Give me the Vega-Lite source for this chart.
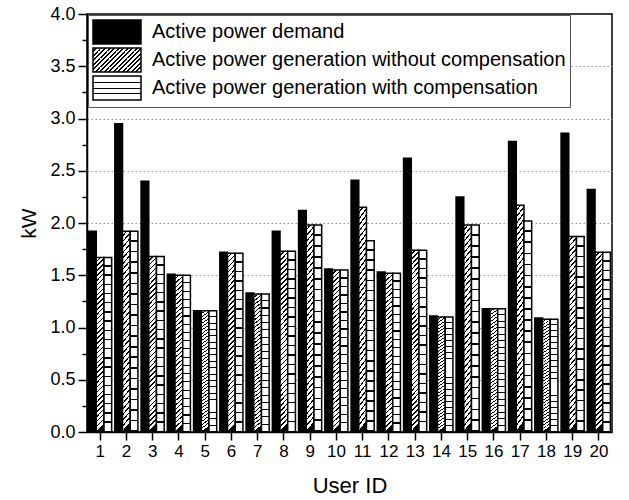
{
  "$schema": "https://vega.github.io/schema/vega-lite/v6.json",
  "width": 525,
  "height": 418,
  "autosize": {"type": "none"},
  "padding": {"left": 87, "top": 14, "right": 17, "bottom": 68},
  "config": {"font": "Liberation Sans", "view": {"stroke": "black", "strokeWidth": 1.5}},
  "data": {"values": [
    {"user": 1, "Active power demand": 1.92, "Active power generation without compensation": 1.67, "Active power generation with compensation": 1.67},
    {"user": 2, "Active power demand": 2.95, "Active power generation without compensation": 1.92, "Active power generation with compensation": 1.92},
    {"user": 3, "Active power demand": 2.40, "Active power generation without compensation": 1.68, "Active power generation with compensation": 1.68},
    {"user": 4, "Active power demand": 1.51, "Active power generation without compensation": 1.50, "Active power generation with compensation": 1.50},
    {"user": 5, "Active power demand": 1.16, "Active power generation without compensation": 1.16, "Active power generation with compensation": 1.16},
    {"user": 6, "Active power demand": 1.72, "Active power generation without compensation": 1.71, "Active power generation with compensation": 1.71},
    {"user": 7, "Active power demand": 1.33, "Active power generation without compensation": 1.32, "Active power generation with compensation": 1.32},
    {"user": 8, "Active power demand": 1.92, "Active power generation without compensation": 1.73, "Active power generation with compensation": 1.73},
    {"user": 9, "Active power demand": 2.12, "Active power generation without compensation": 1.98, "Active power generation with compensation": 1.98},
    {"user": 10, "Active power demand": 1.56, "Active power generation without compensation": 1.55, "Active power generation with compensation": 1.55},
    {"user": 11, "Active power demand": 2.41, "Active power generation without compensation": 2.15, "Active power generation with compensation": 1.83},
    {"user": 12, "Active power demand": 1.53, "Active power generation without compensation": 1.52, "Active power generation with compensation": 1.52},
    {"user": 13, "Active power demand": 2.62, "Active power generation without compensation": 1.74, "Active power generation with compensation": 1.74},
    {"user": 14, "Active power demand": 1.11, "Active power generation without compensation": 1.10, "Active power generation with compensation": 1.10},
    {"user": 15, "Active power demand": 2.25, "Active power generation without compensation": 1.98, "Active power generation with compensation": 1.98},
    {"user": 16, "Active power demand": 1.18, "Active power generation without compensation": 1.18, "Active power generation with compensation": 1.18},
    {"user": 17, "Active power demand": 2.78, "Active power generation without compensation": 2.17, "Active power generation with compensation": 2.02},
    {"user": 18, "Active power demand": 1.09, "Active power generation without compensation": 1.08, "Active power generation with compensation": 1.08},
    {"user": 19, "Active power demand": 2.86, "Active power generation without compensation": 1.87, "Active power generation with compensation": 1.87},
    {"user": 20, "Active power demand": 2.32, "Active power generation without compensation": 1.72, "Active power generation with compensation": 1.72}
  ]},
  "transform": [
    {"fold": ["Active power demand", "Active power generation without compensation", "Active power generation with compensation"], "as": ["series", "kW"]}
  ],
  "mark": {"type": "bar", "strokeWidth": 1.5},
  "encoding": {
    "x": {
      "field": "user", "type": "ordinal",
      "scale": {"paddingInner": 0.12, "paddingOuter": 0.06},
      "axis": {"title": "User ID", "labelAngle": 0, "labelFontSize": 17, "labelColor": "black", "tickSize": 8, "tickColor": "black", "tickWidth": 1.5, "domainColor": "black", "domainWidth": 1.5, "labelPadding": 3, "titleFontSize": 22, "titleFontWeight": "normal", "titleColor": "black", "titlePadding": 16, "grid": false}
    },
    "xOffset": {"field": "series", "sort": ["Active power demand", "Active power generation without compensation", "Active power generation with compensation"], "scale": {"paddingInner": 0}},
    "y": {
      "field": "kW", "type": "quantitative",
      "scale": {"domain": [0, 4], "nice": false},
      "axis": {
        "title": "kW",
        "values": [0, 0.25, 0.5, 0.75, 1, 1.25, 1.5, 1.75, 2, 2.25, 2.5, 2.75, 3, 3.25, 3.5, 3.75, 4],
        "labelExpr": "(datum.value*4)%2===0 ? format(datum.value,'.1f') : ''",
        "tickSize": {"condition": {"test": "(datum.value*4)%2===0", "value": 9}, "value": 5},
        "grid": true, "gridColor": "#999", "gridWidth": 1,
        "gridDash": {"condition": {"test": "true", "value": [1.5, 2.5]}, "value": [1.5, 2.5]},
        "gridOpacity": {"condition": {"test": "(datum.value*4)%2===0 && datum.value>0 && datum.value<4", "value": 1}, "value": 0},
        "domainColor": "black", "domainWidth": 1.5, "tickColor": "black", "tickWidth": 1.5,
        "labelFontSize": 18, "labelColor": "black", "labelPadding": 3,
        "titleFontSize": 21, "titleFontWeight": "normal", "titleColor": "black", "titlePadding": 10
      }
    },
    "fill": {
      "value": {"expr": "(datum.series === 'Active power demand' || datum.value === 'Active power demand') ? '#000' : (datum.value === 'Active power generation without compensation' ? {gradient: 'linear', x1: 0, y1: 0, x2: 1.2, y2: 0.6, stops: [{offset: 0, color: '#fff'}, {offset: 0.04063, color: '#fff'}, {offset: 0.04063, color: '#000'}, {offset: 0.0625, color: '#000'}, {offset: 0.0625, color: '#fff'}, {offset: 0.10313, color: '#fff'}, {offset: 0.10313, color: '#000'}, {offset: 0.125, color: '#000'}, {offset: 0.125, color: '#fff'}, {offset: 0.16563, color: '#fff'}, {offset: 0.16563, color: '#000'}, {offset: 0.1875, color: '#000'}, {offset: 0.1875, color: '#fff'}, {offset: 0.22813, color: '#fff'}, {offset: 0.22813, color: '#000'}, {offset: 0.25, color: '#000'}, {offset: 0.25, color: '#fff'}, {offset: 0.29063, color: '#fff'}, {offset: 0.29063, color: '#000'}, {offset: 0.3125, color: '#000'}, {offset: 0.3125, color: '#fff'}, {offset: 0.35313, color: '#fff'}, {offset: 0.35313, color: '#000'}, {offset: 0.375, color: '#000'}, {offset: 0.375, color: '#fff'}, {offset: 0.41563, color: '#fff'}, {offset: 0.41563, color: '#000'}, {offset: 0.4375, color: '#000'}, {offset: 0.4375, color: '#fff'}, {offset: 0.47813, color: '#fff'}, {offset: 0.47813, color: '#000'}, {offset: 0.5, color: '#000'}, {offset: 0.5, color: '#fff'}, {offset: 0.54063, color: '#fff'}, {offset: 0.54063, color: '#000'}, {offset: 0.5625, color: '#000'}, {offset: 0.5625, color: '#fff'}, {offset: 0.60313, color: '#fff'}, {offset: 0.60313, color: '#000'}, {offset: 0.625, color: '#000'}, {offset: 0.625, color: '#fff'}, {offset: 0.66563, color: '#fff'}, {offset: 0.66563, color: '#000'}, {offset: 0.6875, color: '#000'}, {offset: 0.6875, color: '#fff'}, {offset: 0.72813, color: '#fff'}, {offset: 0.72813, color: '#000'}, {offset: 0.75, color: '#000'}, {offset: 0.75, color: '#fff'}, {offset: 0.79063, color: '#fff'}, {offset: 0.79063, color: '#000'}, {offset: 0.8125, color: '#000'}, {offset: 0.8125, color: '#fff'}, {offset: 0.85313, color: '#fff'}, {offset: 0.85313, color: '#000'}, {offset: 0.875, color: '#000'}, {offset: 0.875, color: '#fff'}, {offset: 0.91563, color: '#fff'}, {offset: 0.91563, color: '#000'}, {offset: 0.9375, color: '#000'}, {offset: 0.9375, color: '#fff'}, {offset: 0.97813, color: '#fff'}, {offset: 0.97813, color: '#000'}, {offset: 1, color: '#000'}]} : (datum.value === 'Active power generation with compensation' ? {gradient: 'linear', x1: 0, y1: 0, x2: 0, y2: 1, stops: [{offset: 0, color: '#fff'}, {offset: 0.23, color: '#fff'}, {offset: 0.23, color: '#000'}, {offset: 0.28, color: '#000'}, {offset: 0.28, color: '#fff'}, {offset: 0.48, color: '#fff'}, {offset: 0.48, color: '#000'}, {offset: 0.53, color: '#000'}, {offset: 0.53, color: '#fff'}, {offset: 0.72, color: '#fff'}, {offset: 0.72, color: '#000'}, {offset: 0.77, color: '#000'}, {offset: 0.77, color: '#fff'}, {offset: 1, color: '#fff'}]} : (datum.series === 'Active power generation without compensation' ? {gradient: 'linear', x1: 0, y1: 0, x2: 0.045, y2: 1, stops: [{offset: 0, color: '#fff'}, {offset: 0.01944, color: '#fff'}, {offset: 0.01944, color: '#000'}, {offset: 0.02778, color: '#000'}, {offset: 0.02778, color: '#fff'}, {offset: 0.04722, color: '#fff'}, {offset: 0.04722, color: '#000'}, {offset: 0.05556, color: '#000'}, {offset: 0.05556, color: '#fff'}, {offset: 0.075, color: '#fff'}, {offset: 0.075, color: '#000'}, {offset: 0.08333, color: '#000'}, {offset: 0.08333, color: '#fff'}, {offset: 0.10278, color: '#fff'}, {offset: 0.10278, color: '#000'}, {offset: 0.11111, color: '#000'}, {offset: 0.11111, color: '#fff'}, {offset: 0.13056, color: '#fff'}, {offset: 0.13056, color: '#000'}, {offset: 0.13889, color: '#000'}, {offset: 0.13889, color: '#fff'}, {offset: 0.15833, color: '#fff'}, {offset: 0.15833, color: '#000'}, {offset: 0.16667, color: '#000'}, {offset: 0.16667, color: '#fff'}, {offset: 0.18611, color: '#fff'}, {offset: 0.18611, color: '#000'}, {offset: 0.19444, color: '#000'}, {offset: 0.19444, color: '#fff'}, {offset: 0.21389, color: '#fff'}, {offset: 0.21389, color: '#000'}, {offset: 0.22222, color: '#000'}, {offset: 0.22222, color: '#fff'}, {offset: 0.24167, color: '#fff'}, {offset: 0.24167, color: '#000'}, {offset: 0.25, color: '#000'}, {offset: 0.25, color: '#fff'}, {offset: 0.26944, color: '#fff'}, {offset: 0.26944, color: '#000'}, {offset: 0.27778, color: '#000'}, {offset: 0.27778, color: '#fff'}, {offset: 0.29722, color: '#fff'}, {offset: 0.29722, color: '#000'}, {offset: 0.30556, color: '#000'}, {offset: 0.30556, color: '#fff'}, {offset: 0.325, color: '#fff'}, {offset: 0.325, color: '#000'}, {offset: 0.33333, color: '#000'}, {offset: 0.33333, color: '#fff'}, {offset: 0.35278, color: '#fff'}, {offset: 0.35278, color: '#000'}, {offset: 0.36111, color: '#000'}, {offset: 0.36111, color: '#fff'}, {offset: 0.38056, color: '#fff'}, {offset: 0.38056, color: '#000'}, {offset: 0.38889, color: '#000'}, {offset: 0.38889, color: '#fff'}, {offset: 0.40833, color: '#fff'}, {offset: 0.40833, color: '#000'}, {offset: 0.41667, color: '#000'}, {offset: 0.41667, color: '#fff'}, {offset: 0.43611, color: '#fff'}, {offset: 0.43611, color: '#000'}, {offset: 0.44444, color: '#000'}, {offset: 0.44444, color: '#fff'}, {offset: 0.46389, color: '#fff'}, {offset: 0.46389, color: '#000'}, {offset: 0.47222, color: '#000'}, {offset: 0.47222, color: '#fff'}, {offset: 0.49167, color: '#fff'}, {offset: 0.49167, color: '#000'}, {offset: 0.5, color: '#000'}, {offset: 0.5, color: '#fff'}, {offset: 0.51944, color: '#fff'}, {offset: 0.51944, color: '#000'}, {offset: 0.52778, color: '#000'}, {offset: 0.52778, color: '#fff'}, {offset: 0.54722, color: '#fff'}, {offset: 0.54722, color: '#000'}, {offset: 0.55556, color: '#000'}, {offset: 0.55556, color: '#fff'}, {offset: 0.575, color: '#fff'}, {offset: 0.575, color: '#000'}, {offset: 0.58333, color: '#000'}, {offset: 0.58333, color: '#fff'}, {offset: 0.60278, color: '#fff'}, {offset: 0.60278, color: '#000'}, {offset: 0.61111, color: '#000'}, {offset: 0.61111, color: '#fff'}, {offset: 0.63056, color: '#fff'}, {offset: 0.63056, color: '#000'}, {offset: 0.63889, color: '#000'}, {offset: 0.63889, color: '#fff'}, {offset: 0.65833, color: '#fff'}, {offset: 0.65833, color: '#000'}, {offset: 0.66667, color: '#000'}, {offset: 0.66667, color: '#fff'}, {offset: 0.68611, color: '#fff'}, {offset: 0.68611, color: '#000'}, {offset: 0.69444, color: '#000'}, {offset: 0.69444, color: '#fff'}, {offset: 0.71389, color: '#fff'}, {offset: 0.71389, color: '#000'}, {offset: 0.72222, color: '#000'}, {offset: 0.72222, color: '#fff'}, {offset: 0.74167, color: '#fff'}, {offset: 0.74167, color: '#000'}, {offset: 0.75, color: '#000'}, {offset: 0.75, color: '#fff'}, {offset: 0.76944, color: '#fff'}, {offset: 0.76944, color: '#000'}, {offset: 0.77778, color: '#000'}, {offset: 0.77778, color: '#fff'}, {offset: 0.79722, color: '#fff'}, {offset: 0.79722, color: '#000'}, {offset: 0.80556, color: '#000'}, {offset: 0.80556, color: '#fff'}, {offset: 0.825, color: '#fff'}, {offset: 0.825, color: '#000'}, {offset: 0.83333, color: '#000'}, {offset: 0.83333, color: '#fff'}, {offset: 0.85278, color: '#fff'}, {offset: 0.85278, color: '#000'}, {offset: 0.86111, color: '#000'}, {offset: 0.86111, color: '#fff'}, {offset: 0.88056, color: '#fff'}, {offset: 0.88056, color: '#000'}, {offset: 0.88889, color: '#000'}, {offset: 0.88889, color: '#fff'}, {offset: 0.90833, color: '#fff'}, {offset: 0.90833, color: '#000'}, {offset: 0.91667, color: '#000'}, {offset: 0.91667, color: '#fff'}, {offset: 0.93611, color: '#fff'}, {offset: 0.93611, color: '#000'}, {offset: 0.94444, color: '#000'}, {offset: 0.94444, color: '#fff'}, {offset: 0.96389, color: '#fff'}, {offset: 0.96389, color: '#000'}, {offset: 0.97222, color: '#000'}, {offset: 0.97222, color: '#fff'}, {offset: 0.99167, color: '#fff'}, {offset: 0.99167, color: '#000'}, {offset: 1, color: '#000'}]} : {gradient: 'linear', x1: 0, y1: 0, x2: 0, y2: 1, stops: [{offset: 0, color: '#fff'}, {offset: 0.04474, color: '#fff'}, {offset: 0.04474, color: '#000'}, {offset: 0.05263, color: '#000'}, {offset: 0.05263, color: '#fff'}, {offset: 0.09737, color: '#fff'}, {offset: 0.09737, color: '#000'}, {offset: 0.10526, color: '#000'}, {offset: 0.10526, color: '#fff'}, {offset: 0.15, color: '#fff'}, {offset: 0.15, color: '#000'}, {offset: 0.15789, color: '#000'}, {offset: 0.15789, color: '#fff'}, {offset: 0.20263, color: '#fff'}, {offset: 0.20263, color: '#000'}, {offset: 0.21053, color: '#000'}, {offset: 0.21053, color: '#fff'}, {offset: 0.25526, color: '#fff'}, {offset: 0.25526, color: '#000'}, {offset: 0.26316, color: '#000'}, {offset: 0.26316, color: '#fff'}, {offset: 0.30789, color: '#fff'}, {offset: 0.30789, color: '#000'}, {offset: 0.31579, color: '#000'}, {offset: 0.31579, color: '#fff'}, {offset: 0.36053, color: '#fff'}, {offset: 0.36053, color: '#000'}, {offset: 0.36842, color: '#000'}, {offset: 0.36842, color: '#fff'}, {offset: 0.41316, color: '#fff'}, {offset: 0.41316, color: '#000'}, {offset: 0.42105, color: '#000'}, {offset: 0.42105, color: '#fff'}, {offset: 0.46579, color: '#fff'}, {offset: 0.46579, color: '#000'}, {offset: 0.47368, color: '#000'}, {offset: 0.47368, color: '#fff'}, {offset: 0.51842, color: '#fff'}, {offset: 0.51842, color: '#000'}, {offset: 0.52632, color: '#000'}, {offset: 0.52632, color: '#fff'}, {offset: 0.57105, color: '#fff'}, {offset: 0.57105, color: '#000'}, {offset: 0.57895, color: '#000'}, {offset: 0.57895, color: '#fff'}, {offset: 0.62368, color: '#fff'}, {offset: 0.62368, color: '#000'}, {offset: 0.63158, color: '#000'}, {offset: 0.63158, color: '#fff'}, {offset: 0.67632, color: '#fff'}, {offset: 0.67632, color: '#000'}, {offset: 0.68421, color: '#000'}, {offset: 0.68421, color: '#fff'}, {offset: 0.72895, color: '#fff'}, {offset: 0.72895, color: '#000'}, {offset: 0.73684, color: '#000'}, {offset: 0.73684, color: '#fff'}, {offset: 0.78158, color: '#fff'}, {offset: 0.78158, color: '#000'}, {offset: 0.78947, color: '#000'}, {offset: 0.78947, color: '#fff'}, {offset: 0.83421, color: '#fff'}, {offset: 0.83421, color: '#000'}, {offset: 0.84211, color: '#000'}, {offset: 0.84211, color: '#fff'}, {offset: 0.88684, color: '#fff'}, {offset: 0.88684, color: '#000'}, {offset: 0.89474, color: '#000'}, {offset: 0.89474, color: '#fff'}, {offset: 0.93947, color: '#fff'}, {offset: 0.93947, color: '#000'}, {offset: 0.94737, color: '#000'}, {offset: 0.94737, color: '#fff'}, {offset: 0.99211, color: '#fff'}, {offset: 0.99211, color: '#000'}, {offset: 1, color: '#000'}]})))"}
    },
    "stroke": {
      "field": "series",
      "scale": {
        "domain": ["Active power demand", "Active power generation without compensation", "Active power generation with compensation"],
        "range": ["#000", "#000", "#000"]
      },
      "legend": {
        "title": null,
        "orient": "top-left",
        "offset": 1,
        "padding": 4,
        "rowPadding": -3,
        "fillColor": "white",
        "strokeColor": "#555",
        "symbolType": "M-1,-1H3V1H-1Z",
        "symbolSize": 576,
        "symbolStrokeWidth": 1.5,
        "symbolOpacity": 1,
        "labelFontSize": 20,
        "labelColor": "black",
        "labelLimit": 600,
        "labelOffset": 34
      }
    }
  }
}
